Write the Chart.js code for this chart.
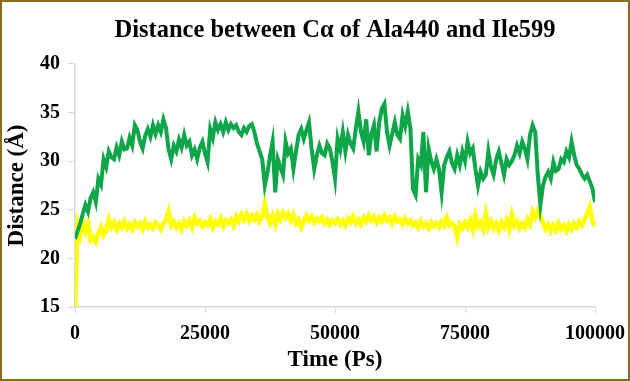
<!DOCTYPE html>
<html>
<head>
<meta charset="utf-8">
<script src="https://cdn.jsdelivr.net/npm/chart.js@4/dist/chart.umd.min.js"></script>
<style>
  html, body { margin: 0; padding: 0; background: #ffffff; }
  #frame { width: 630px; height: 381px; box-sizing: border-box; border: 2px solid #8a6b1f; background: #fff; }
  #wrap { position: relative; width: 626px; height: 377px; }
</style>
</head>
<body>
<div id="frame"><div id="wrap"><canvas id="c"></canvas></div></div>
<script>
// ---- data ----
const titleText = 'Distance between C\u03b1 of Ala440 and Ile599';
const xAxisTitle = 'Time (Ps)';
const yAxisTitle = 'Distance (\u00c5)';
const xTickValues = [0, 25000, 50000, 75000, 100000];
const yTickValues = [15, 20, 25, 30, 35, 40];
const timeStepPs = 500; // sampling of the read-off points

const greenSeriesName = 'Ala440-Ile599 (green)';
const greenValues = [
  22.0, 22.8, 23.6, 24.6, 25.5, 24.8, 26.2, 26.8, 25.8, 28.2,
  27.6, 30.2, 29.4, 31.0, 30.4, 30.2, 31.4, 30.6, 32.0, 31.2,
  31.3, 32.4, 31.6, 33.7, 33.2, 32.0, 31.3, 32.6, 33.3, 32.5,
  33.7, 32.8, 33.7, 33.0, 34.3, 33.4, 31.2, 30.2, 31.6, 31.0,
  32.2, 31.4, 32.7, 31.6, 32.0, 30.6, 31.2, 30.2, 31.4, 32.0,
  30.8, 29.9, 33.3, 32.4, 34.0, 33.2, 33.8, 33.0, 34.0, 33.2,
  33.8, 33.4, 33.7, 33.0, 32.7, 33.4, 33.0, 33.6, 33.8, 33.0,
  31.8, 31.0, 30.2, 27.5, 28.8, 30.5, 32.0, 26.8, 30.2, 29.4,
  28.6, 32.0, 30.8, 31.3, 29.2, 31.0, 32.7, 33.3, 32.3, 33.2,
  34.0, 31.3, 29.2, 30.6, 31.6, 30.8, 30.6, 31.8, 31.3, 30.0,
  28.2, 32.3, 31.2, 33.0, 31.0, 32.7, 31.8, 31.3, 33.3, 35.1,
  33.0, 32.0, 34.3, 30.6, 32.8, 33.7, 31.0, 34.0, 35.4, 35.9,
  33.0, 31.6, 32.8, 34.0, 32.7, 32.3, 34.7, 33.6, 35.1, 33.4,
  27.1, 26.5, 30.2, 29.6, 33.0, 26.8, 31.3, 30.0, 29.2, 30.2,
  29.2, 26.8, 29.6, 30.4, 31.0, 29.8, 29.2, 30.6, 29.6, 31.0,
  30.0, 32.0, 30.8, 31.3, 29.2, 27.5, 28.9, 28.2, 28.6, 31.0,
  29.4, 28.6, 30.2, 31.0, 29.8, 28.6, 30.2, 29.6, 30.0, 30.6,
  31.6, 30.8, 32.0, 31.3, 30.2, 32.7, 33.7, 33.0, 28.6, 25.5,
  27.5, 28.4, 28.9, 28.2, 29.9, 29.0, 29.2, 30.2, 29.9, 31.0,
  30.4, 32.0, 30.6, 29.6, 29.2, 28.6, 28.2, 28.6, 27.9, 27.2,
  25.8
];

const yellowSeriesName = 'Ala440-Ile599 (yellow)';
const yellowValues = [
  15.0, 23.4, 22.4, 23.7, 22.8, 23.6, 21.9, 22.2, 21.7, 22.6,
  23.2, 22.4, 22.9, 24.0, 23.2, 23.7, 23.0, 23.6, 23.2, 23.8,
  23.1, 23.5, 23.0, 23.7, 23.3, 23.6, 23.0, 23.8, 23.2, 23.5,
  23.1, 23.7, 23.4, 23.0, 23.6, 24.0, 24.8, 23.4, 23.8, 23.2,
  23.6, 23.0, 23.8, 23.4, 23.9, 23.2, 24.2, 23.6, 23.9, 23.3,
  23.7, 23.4, 24.0, 23.2, 23.8, 23.5, 24.1, 23.3, 23.9, 23.6,
  24.0, 23.4, 24.3, 23.8, 24.5, 24.0, 24.6, 23.9, 24.4, 24.0,
  24.5, 23.8, 24.3, 25.6, 24.2, 23.6, 24.4, 23.5, 24.6, 24.0,
  24.7, 24.2, 24.6, 23.9, 24.5, 23.6, 24.0, 23.2, 23.8, 24.4,
  23.9, 24.3, 23.7, 24.1, 23.8, 24.2, 23.6, 24.0, 23.5, 23.9,
  23.6, 24.0, 23.5, 23.9, 23.4, 24.1, 23.7, 24.3, 23.6, 24.0,
  23.5, 24.2, 23.8, 24.4, 23.9, 24.3, 23.7, 24.2, 23.8, 24.4,
  23.9, 24.2, 23.6, 24.3, 23.8, 24.0, 23.5, 24.1, 23.6, 23.9,
  23.4, 23.7, 23.2, 23.8, 23.3, 23.6, 23.1, 23.7, 23.3, 23.6,
  23.2, 23.8, 23.4, 24.2, 23.4, 23.6, 23.3, 22.2, 23.5, 23.1,
  23.7, 23.2, 23.9, 23.0, 24.4, 23.3, 23.7, 23.0, 24.6, 23.2,
  23.8, 23.1, 23.6, 22.9, 23.7, 23.2, 23.9, 23.0, 24.5, 23.4,
  23.8, 23.1, 23.6, 23.2, 24.0, 23.5, 24.8, 24.2, 24.9, 24.4,
  23.6, 23.0, 23.5, 22.8, 23.4, 22.9, 23.6, 23.0, 23.4, 22.8,
  23.5, 23.0, 23.6, 23.2, 23.8, 23.4, 24.0, 24.6, 25.3, 23.8,
  23.3
];

// ---- build library structures ----
const toPoints = vals => vals.map((v, i) => ({ x: i * timeStepPs, y: v }));
const serif = "'Liberation Serif', 'Times New Roman', Times, serif";
const axisGray = '#d9d9d9';

new Chart(document.getElementById('c'), {
  type: 'line',
  data: {
    datasets: [
      { label: greenSeriesName, data: toPoints(greenValues), borderColor: '#0fa64a', backgroundColor: '#0fa64a', borderWidth: 4, pointRadius: 0, tension: 0, fill: false },
      { label: yellowSeriesName, data: toPoints(yellowValues), borderColor: '#ffff00', backgroundColor: '#ffff00', borderWidth: 4.5, pointRadius: 0, tension: 0, fill: false }
    ]
  },
  options: {
    responsive: true,
    maintainAspectRatio: false,
    animation: false,
    layout: { padding: { top: 4, left: 0, right: 33, bottom: 9.6 } },
    plugins: {
      legend: { display: false },
      tooltip: { enabled: false },
      title: {
        display: true, text: titleText, color: '#000', fullSize: false,
        font: { family: serif, size: 24.5, weight: 'bold' },
        padding: { top: 10, bottom: 18.5 }
      }
    },
    scales: {
      x: {
        type: 'linear', min: xTickValues[0], max: xTickValues[xTickValues.length - 1],
        afterBuildTicks: s => { s.ticks = xTickValues.map(v => ({ value: v })); },
        ticks: { color: '#000', padding: 1, maxRotation: 0, font: { family: serif, size: 20, weight: 'bold', lineHeight: 2.0 }, callback: v => String(v) },
        grid: { drawOnChartArea: false, drawTicks: true, tickLength: 6, color: axisGray },
        border: { display: true, color: axisGray, width: 1.5 },
        title: { display: true, text: xAxisTitle, color: '#000', font: { family: serif, size: 23, weight: 'bold', lineHeight: 0.45 }, padding: { top: 0, bottom: 4 } }
      },
      y: {
        type: 'linear', min: yTickValues[0], max: yTickValues[yTickValues.length - 1],
        afterBuildTicks: s => { s.ticks = yTickValues.map(v => ({ value: v })); },
        ticks: { color: '#000', padding: 8, font: { family: serif, size: 20, weight: 'bold' }, callback: v => String(v) },
        grid: { drawOnChartArea: false, drawTicks: true, tickLength: 7, color: axisGray },
        border: { display: true, color: axisGray, width: 1.5 },
        title: { display: true, text: yAxisTitle, color: '#000', font: { family: serif, size: 23, weight: 'bold' }, padding: { top: 1.2, bottom: 1.2 } }
      }
    }
  }
});
</script>
</body>
</html>
